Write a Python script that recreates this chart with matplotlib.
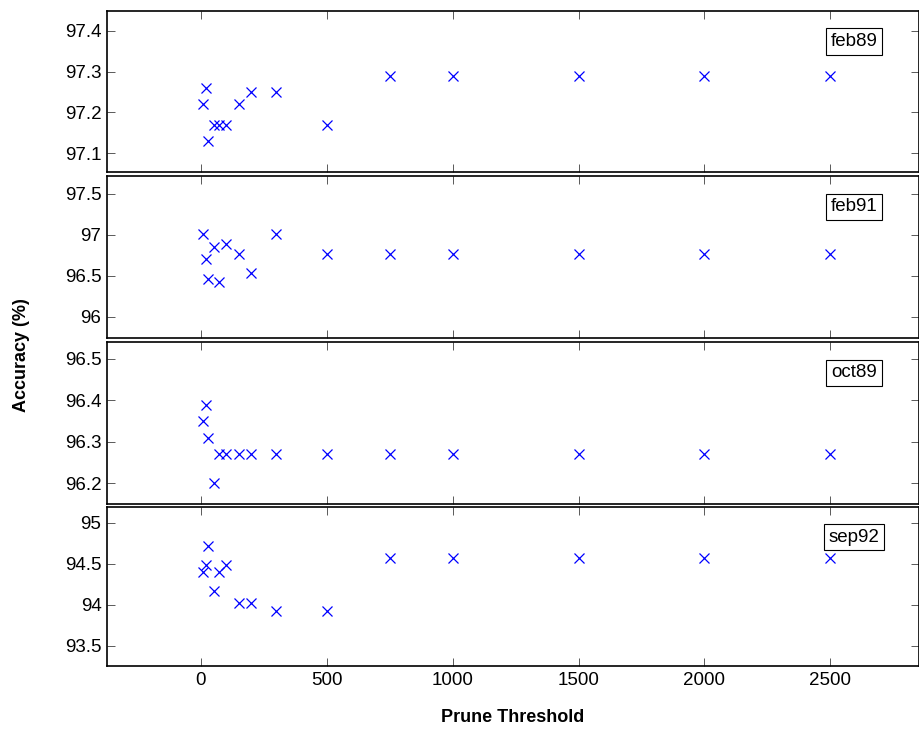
import matplotlib
matplotlib.use('Agg')
import matplotlib.pyplot as plt

plt.rcParams['font.family'] = ['Liberation Sans', 'DejaVu Sans']

# prune thresholds (same for every data set)
thresholds = [10, 20, 30, 50, 70, 100, 150, 200, 300, 500, 750, 1000, 1500, 2000, 2500]

names = ['feb89', 'feb91', 'oct89', 'sep92']

acc_feb89 = [97.22, 97.26, 97.13, 97.17, 97.17, 97.17, 97.22, 97.25, 97.25, 97.17,
             97.29, 97.29, 97.29, 97.29, 97.29]
acc_feb91 = [97.01, 96.70, 96.46, 96.85, 96.42, 96.89, 96.77, 96.54, 97.01, 96.77,
             96.77, 96.77, 96.77, 96.77, 96.77]
acc_oct89 = [96.35, 96.39, 96.31, 96.20, 96.27, 96.27, 96.27, 96.27, 96.27, 96.27,
             96.27, 96.27, 96.27, 96.27, 96.27]
acc_sep92 = [94.40, 94.49, 94.72, 94.17, 94.40, 94.48, 94.02, 94.02, 93.93, 93.93,
             94.57, 94.57, 94.57, 94.57, 94.57]
accs = [acc_feb89, acc_feb91, acc_oct89, acc_sep92]

# y limits and ticks per panel
ylims = [(97.054, 97.449), (95.74, 97.72), (96.15, 96.541), (93.255, 95.19)]
yticks = [[97.1, 97.2, 97.3, 97.4], [96, 96.5, 97, 97.5],
          [96.2, 96.3, 96.4, 96.5], [93.5, 94, 94.5, 95]]
yticklabels = [['97.1', '97.2', '97.3', '97.4'], ['96', '96.5', '97', '97.5'],
               ['96.2', '96.3', '96.4', '96.5'], ['93.5', '94', '94.5', '95']]
xticks = [0, 500, 1000, 1500, 2000, 2500]

fig = plt.figure(figsize=(9.2, 7.31), dpi=100)

# panel boxes in pixels (top, bottom)
boxes = [(11, 172), (176, 338), (342, 504), (507, 666)]
left = 107 / 920
width = (919 - 107) / 920

axes = []
for i in range(4):
    top, bot = boxes[i]
    ax = fig.add_axes([left, 1 - bot / 731, width, (bot - top) / 731])
    ax.plot(thresholds, accs[i], 'x', color='blue', markersize=7, markeredgewidth=0.9)
    ax.set_xlim(-373, 2852)
    ax.set_ylim(*ylims[i])
    ax.set_yticks(yticks[i])
    ax.set_yticklabels(yticklabels[i])
    ax.set_xticks(xticks)
    ax.tick_params(direction='in', length=6, width=0.7, color='0.35', top=True,
                   right=True, labelsize=13.5, pad=4)
    if i < 3:
        ax.tick_params(labelbottom=False)
    for s in ax.spines.values():
        s.set_linewidth(1.2)
    ax.text(0.92, 0.81, names[i], transform=ax.transAxes, ha='center', va='center',
            fontsize=13.5,
            bbox=dict(boxstyle='square,pad=0.25', facecolor='white', edgecolor='black',
                      linewidth=0.8))
    axes.append(ax)

axes[3].set_xlabel('Prune Threshold', fontsize=13, fontweight='bold', labelpad=15)
fig.text(22 / 920, 1 - 355 / 731, 'Accuracy (%)', rotation=90, ha='center', va='center',
         fontsize=13, fontweight='bold')

fig.savefig('out.png', dpi=100)
